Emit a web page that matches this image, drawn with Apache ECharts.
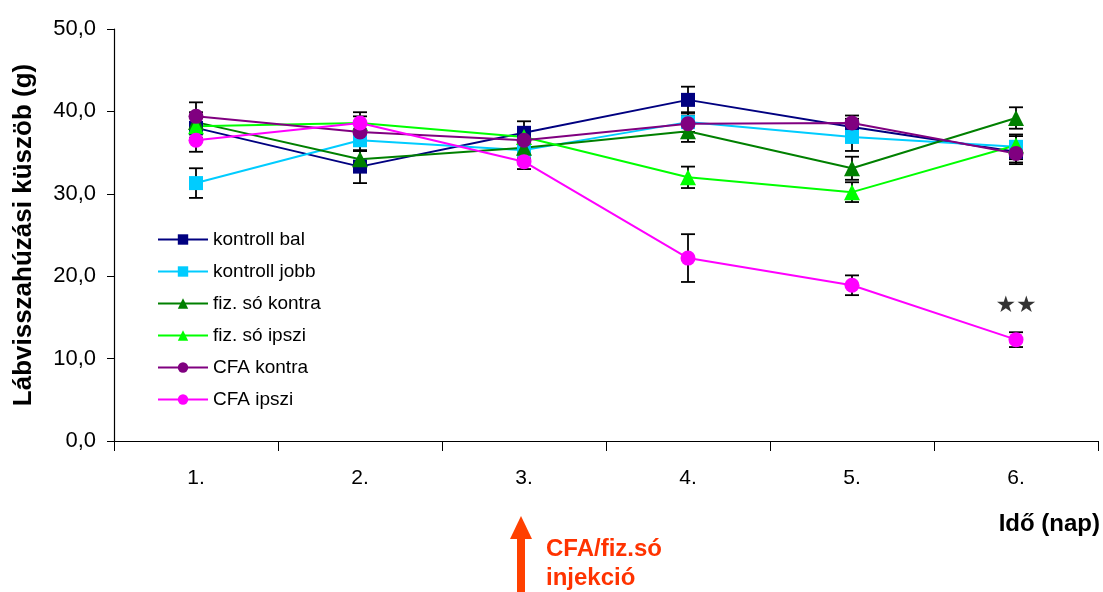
<!DOCTYPE html>
<html>
<head>
<meta charset="utf-8">
<script src="https://cdn.jsdelivr.net/npm/echarts@6/dist/echarts.min.js"></script>
<style>html,body{margin:0;padding:0;background:#fff}#c{width:1103px;height:592px}</style>
</head>
<body>
<div id="c"></div>
<script>
const categories = ['1.', '2.', '3.', '4.', '5.', '6.'];
const yTicks = { min: 0, max: 50, interval: 10 };

const kontrollBal    = [38.0, 33.3, 37.4, 41.4, 38.1, 35.1];
const kontrollBalErr = [1.2, 2.0, 1.4, 1.6, 1.0, 1.3];
const kontrollJobb    = [31.3, 36.5, 35.3, 38.7, 36.9, 35.7];
const kontrollJobbErr = [1.8, 1.3, 1.0, 1.2, 1.7, 1.5];
const fizKontra    = [38.7, 34.2, 35.6, 37.6, 33.1, 39.2];
const fizKontraErr = [1.2, 1.0, 1.0, 1.3, 1.4, 1.3];
const fizIpszi    = [38.2, 38.6, 36.9, 32.0, 30.2, 35.9];
const fizIpsziErr = [1.0, 0.8, 1.0, 1.3, 1.2, 1.1];
const cfaKontra    = [39.4, 37.5, 36.5, 38.5, 38.6, 34.9];
const cfaKontraErr = [1.7, 1.0, 1.0, 1.0, 0.9, 1.3];
const cfaIpszi    = [36.5, 38.6, 33.9, 22.2, 18.9, 12.3];
const cfaIpsziErr = [1.4, 1.3, 0.9, 2.9, 1.2, 0.9];
const sigMark = { category: '6.', value: 16.4, text: '★★' };

const seriesDefs = [
  { name: 'kontroll bal', data: kontrollBal, err: kontrollBalErr, color: '#000080', symbol: 'rect', size: 14 },
  { name: 'kontroll jobb', data: kontrollJobb, err: kontrollJobbErr, color: '#00CCFF', symbol: 'rect', size: 14 },
  { name: 'fiz. só kontra', data: fizKontra, err: fizKontraErr, color: '#008000', symbol: 'triangle', size: 16 },
  { name: 'fiz. só ipszi', data: fizIpszi, err: fizIpsziErr, color: '#00FF00', symbol: 'triangle', size: 16 },
  { name: 'CFA kontra', data: cfaKontra, err: cfaKontraErr, color: '#800080', symbol: 'circle', size: 15 },
  { name: 'CFA ipszi', data: cfaIpszi, err: cfaIpsziErr, color: '#FF00FF', symbol: 'circle', size: 15 }
];

const FONT = 'Liberation Sans, Arial, sans-serif';
const chart = echarts.init(document.getElementById('c'));

function errRender(params, api) {
  const x = api.value(0), v = api.value(1), e = api.value(2);
  const top = api.coord([x, v + e]);
  const bot = api.coord([x, v - e]);
  const hw = 7;
  const st = { stroke: '#000', lineWidth: 1.8 };
  return {
    type: 'group',
    children: [
      { type: 'line', shape: { x1: top[0], y1: top[1], x2: bot[0], y2: bot[1] }, style: st },
      { type: 'line', shape: { x1: top[0] - hw, y1: top[1], x2: top[0] + hw, y2: top[1] }, style: st },
      { type: 'line', shape: { x1: bot[0] - hw, y1: bot[1], x2: bot[0] + hw, y2: bot[1] }, style: st }
    ]
  };
}

const series = [];
seriesDefs.forEach((d) => {
  series.push({
    type: 'custom',
    name: d.name + '_err',
    renderItem: errRender,
    data: d.data.map((v, j) => [j, v, d.err[j]]),
    encode: { x: 0, y: 1 },
    z: 2,
    silent: true
  });
});
seriesDefs.forEach((d) => {
  series.push({
    type: 'line',
    name: d.name,
    data: d.data,
    symbol: d.symbol,
    symbolSize: d.size,
    showAllSymbol: true,
    lineStyle: { color: d.color, width: 2 },
    itemStyle: { color: d.color },
    z: 3,
    animation: false
  });
});
series.push({
  type: 'scatter',
  name: 'sig',
  data: [[sigMark.category, sigMark.value]],
  symbolSize: 1,
  itemStyle: { color: 'transparent' },
  label: { show: true, position: 'inside', formatter: sigMark.text, fontSize: 23, color: '#000', fontFamily: 'DejaVu Sans' },
  silent: true
});

chart.setOption({
  animation: false,
  grid: { left: 114, right: 5, top: 29, bottom: 151, containLabel: false, outerBoundsMode: 'none' },
  legend: {
    data: seriesDefs.map(d => d.name),
    orient: 'vertical',
    left: 152,
    top: 225,
    itemWidth: 50,
    itemHeight: 13,
    itemGap: 13,
    textStyle: { fontSize: 19, fontFamily: FONT, color: '#000' }
  },
  xAxis: {
    type: 'category',
    data: categories,
    boundaryGap: true,
    axisLine: { lineStyle: { color: '#000', width: 1.2 } },
    axisTick: { show: true, length: 10, lineStyle: { color: '#000' } },
    axisLabel: { fontSize: 21, fontFamily: FONT, color: '#000', margin: 27 },
    splitLine: { show: false }
  },
  yAxis: {
    type: 'value',
    min: yTicks.min, max: yTicks.max, interval: yTicks.interval,
    name: 'Lábvisszahúzási küszöb (g)',
    nameLocation: 'middle',
    nameGap: 77,
    nameTextStyle: { fontSize: 26, fontWeight: 'bold', fontFamily: FONT, color: '#000' },
    axisLine: { show: true, lineStyle: { color: '#000', width: 1.2 } },
    axisTick: { show: true, length: 7, lineStyle: { color: '#000' } },
    axisLabel: { fontSize: 22, fontFamily: FONT, color: '#000', margin: 18,
      formatter: v => v.toFixed(1).replace('.', ',') },
    splitLine: { show: false }
  },
  series: series
});

const ax = chart.convertToPixel({ xAxisIndex: 0 }, '3.') - 3;
chart.setOption({
  graphic: [
    { type: 'polygon', shape: { points: [[ax, 516], [ax - 11, 539], [ax + 11, 539]] }, style: { fill: '#FF4000' } },
    { type: 'rect', shape: { x: ax - 4, y: 537, width: 8, height: 55 }, style: { fill: '#FF4000' } },
    { type: 'text', left: ax + 25, top: 537, style: { text: 'CFA/fiz.só', fill: '#FF3300', font: 'bold 24px Liberation Sans, Arial, sans-serif' } },
    { type: 'text', left: ax + 25, top: 566, style: { text: 'injekció', fill: '#FF3300', font: 'bold 24px Liberation Sans, Arial, sans-serif' } },
    { type: 'text', right: 3, top: 512, style: { text: 'Idő (nap)', fill: '#000', font: 'bold 24px Liberation Sans, Arial, sans-serif' } }
  ]
});
</script>
</body>
</html>
